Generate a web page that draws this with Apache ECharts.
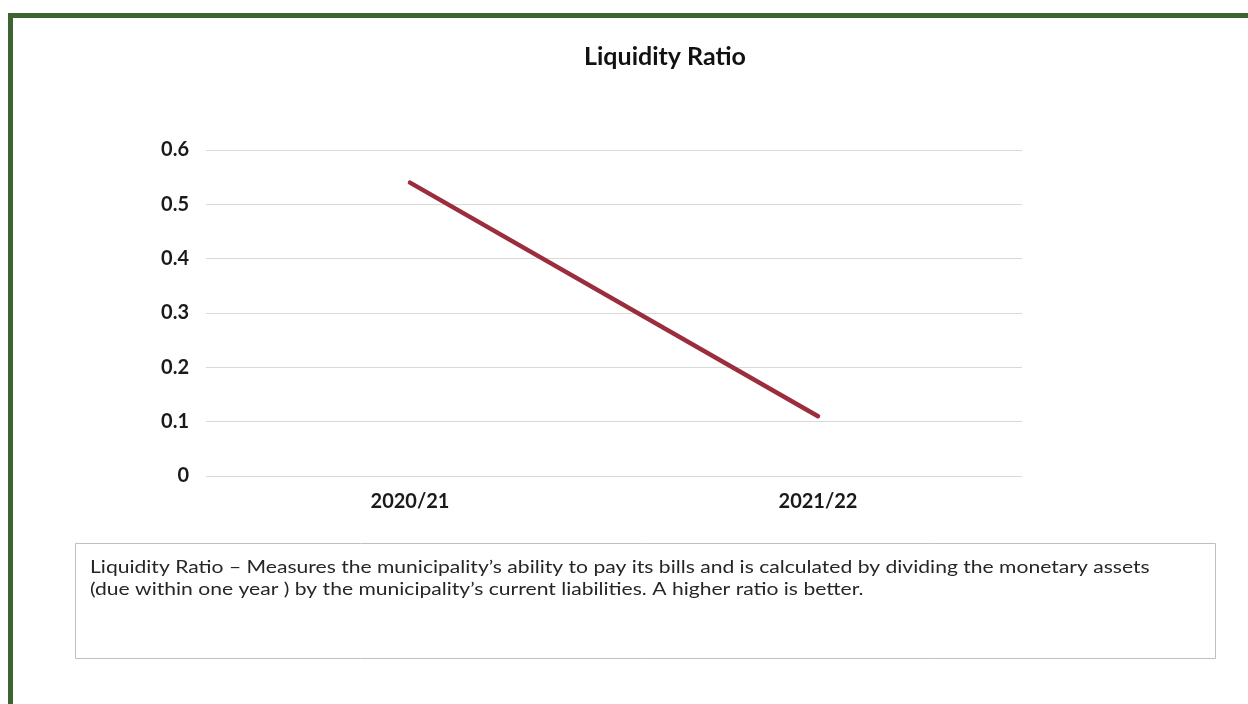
<!DOCTYPE html>
<html>
<head>
<meta charset="utf-8">
<script src="https://cdn.jsdelivr.net/npm/echarts@6/dist/echarts.min.js"></script>
<style>
  html, body { margin: 0; padding: 0; background: #ffffff; }
  #chart { width: 1248px; height: 704px; }
</style>
</head>
<body>
<div id="chart"></div>
<script>
// Liquidity ratio by financial year
const categories = ['2020/21', '2021/22'];
const liquidityRatio = [0.54, 0.11];
const yTicks = { min: 0, max: 0.6, interval: 0.1 };

const noteLines = [
  'Liquidity Ratio \u2013 Measures the municipality\u2019s ability to pay its bills and is calculated by dividing the monetary assets',
  '(due within one year ) by the municipality\u2019s current liabilities. A higher ratio is better.'
];

const fontFamily = 'Lato, "Open Sans", "Noto Sans", sans-serif';
const chart = echarts.init(document.getElementById('chart'), null, { renderer: 'canvas' });

chart.setOption({
  backgroundColor: '#ffffff',
  animation: false,
  title: {
    text: 'Liquidity Ratio',
    left: 579,
    top: 39,
    textStyle: { fontFamily, fontSize: 25, fontWeight: 'bold', color: '#111111' }
  },
  grid: { left: 206, right: 226, top: 150, height: 326, containLabel: false },
  xAxis: {
    type: 'category',
    data: categories,
    boundaryGap: true,
    axisLine: { show: false },
    axisTick: { show: false },
    axisLabel: { fontFamily, fontSize: 20, fontWeight: 'bold', color: '#1a1a1a', margin: 16 }
  },
  yAxis: {
    type: 'value',
    min: yTicks.min,
    max: yTicks.max,
    interval: yTicks.interval,
    axisLine: { show: false },
    axisTick: { show: false },
    axisLabel: { fontFamily, fontSize: 20, fontWeight: 'bold', color: '#1a1a1a', margin: 17,
      formatter: v => String(Math.round(v * 10) / 10) },
    splitLine: { lineStyle: { color: '#d9d9d9', width: 1 } }
  },
  series: [{
    type: 'line',
    data: liquidityRatio,
    symbol: 'none',
    lineStyle: { color: '#9b2d3c', width: 4.5, cap: 'round' }
  }],
  graphic: [
    // green frame along the top and left edges
    { type: 'rect', shape: { x: 8, y: 13, width: 1250, height: 5 }, style: { fill: '#3d6430' } },
    { type: 'rect', shape: { x: 8, y: 13, width: 5, height: 700 }, style: { fill: '#3d6430' } },
    // explanatory note box
    { type: 'rect', shape: { x: 75.5, y: 543.5, width: 1140, height: 115 },
      style: { fill: '#ffffff', stroke: '#bfbfbf', lineWidth: 1 } },
    { type: 'text', x: 90, y: 557, scaleX: 1.24,
      style: { text: noteLines.join('\n'), fontFamily, fontSize: 17, lineHeight: 22, fill: '#262626' } }
  ]
});
</script>
</body>
</html>
